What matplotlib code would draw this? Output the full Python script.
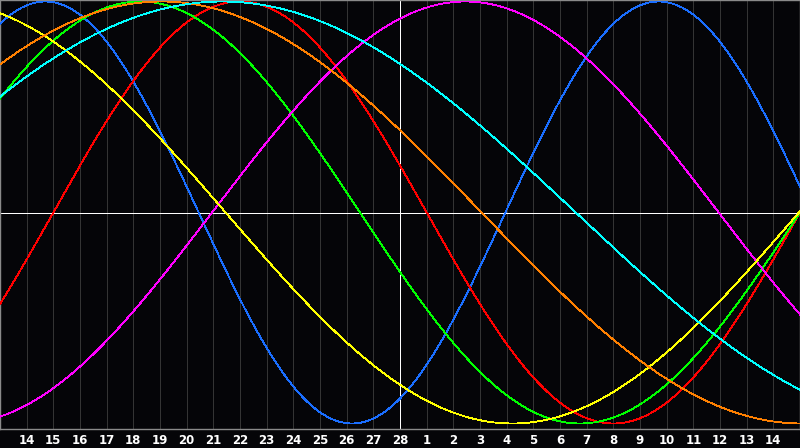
import numpy as np
import matplotlib
matplotlib.use("Agg")
import matplotlib.pyplot as plt

# ---- data ----
day_labels = [14, 15, 16, 17, 18, 19, 20, 21, 22, 23, 24, 25, 26, 27, 28,
              1, 2, 3, 4, 5, 6, 7, 8, 9, 10, 11, 12, 13, 14]
cycle_names = ["physical", "emotional", "intellectual", "intuitive",
               "aesthetic", "awareness", "spiritual"]
cycle_periods = [23, 28, 33, 38, 43, 48, 53]
# day index (0..30 across chart) of an ascending zero crossing
cycle_zero_up = [18.95, 30.0, 30.0, 7.95, 29.96, -5.94, -4.91]
cycle_colors = ["#1a6eff", "#ff0000", "#00ff00", "#ff00ff",
                "#ffff00", "#ff8000", "#00ffff"]
today_index = 15  # the "28" column

W, H = 800, 448
fig = plt.figure(figsize=(W / 100, H / 100), dpi=100)
fig.patch.set_facecolor("#050508")

plot_h = 428.5
ax = fig.add_axes([0, (H - plot_h) / H, 1, plot_h / H])
ax.set_facecolor("#050508")

n_days = len(day_labels) + 1  # 30 intervals
ax.set_xlim(0, n_days)
top_v = 1 + 1.5 / 211
bot_v = 1 - 427 / 211
ax.set_ylim(bot_v, top_v)

# vertical day grid lines
for i in range(1, n_days):
    ax.axvline(i, color="#343434", lw=0.6, zorder=1, antialiased=False)

# center white lines
ax.axvline(today_index, color="#ffffff", lw=0.6, zorder=2, antialiased=False)
ax.axhline(0, color="#ffffff", lw=0.6, zorder=2, antialiased=False)

x = np.linspace(0, n_days, 1201)
for name, p, z0, c in zip(cycle_names, cycle_periods, cycle_zero_up, cycle_colors):
    y = np.sin(2 * np.pi * (x - z0) / p)
    ax.plot(x, y, color=c, lw=0.6, zorder=3, antialiased=False)

ax.set_xticks(range(1, n_days))
ax.set_xticklabels([str(d) for d in day_labels], color="white",
                   fontsize=8.5, fontweight="bold", family="DejaVu Sans")
ax.tick_params(axis="x", length=0, pad=4)
ax.set_yticks([])

for s in ax.spines.values():
    s.set_color("#8a8a8a")
    s.set_linewidth(1.0)

fig.savefig("out.png", dpi=100, facecolor=fig.get_facecolor())
